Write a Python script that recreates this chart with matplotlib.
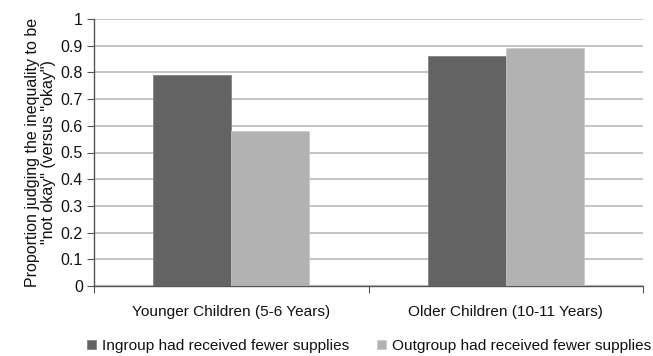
import matplotlib
matplotlib.use("Agg")
import matplotlib.pyplot as plt
import numpy as np

plt.rcParams['font.family'] = ['Liberation Sans', 'DejaVu Sans']

categories = ["Younger Children (5-6 Years)", "Older Children (10-11 Years)"]
series_names = ["Ingroup had received fewer supplies", "Outgroup had received fewer supplies"]
ingroup = [0.79, 0.86]
outgroup = [0.58, 0.89]
yticks = [0, 0.1, 0.2, 0.3, 0.4, 0.5, 0.6, 0.7, 0.8, 0.9, 1]
ytick_labels = ["0", "0.1", "0.2", "0.3", "0.4", "0.5", "0.6", "0.7", "0.8", "0.9", "1"]

dark = "#636363"
light = "#b2b2b2"

fig = plt.figure(figsize=(6.53, 3.56), dpi=100)
ax = fig.add_axes([94/653, 1 - 286/356, (643-94)/653, (286-19)/356])

x = np.arange(len(categories))
w = 0.285
ax.bar(x - w/2, ingroup, w, color=dark, edgecolor="#7a7a7a", linewidth=0.5, label=series_names[0], zorder=3)
ax.bar(x + w/2, outgroup, w, color=light, edgecolor="#c8c8c8", linewidth=0.5, label=series_names[1], zorder=3)

ax.set_xlim(-0.5, 1.5)
ax.set_ylim(0, 1)
ax.set_yticks(yticks)
ax.set_yticklabels(ytick_labels, fontsize=11.5, color="#111111")
ax.yaxis.grid(True, color="#b4b4b4", linewidth=1.1, zorder=0)
ax.set_axisbelow(True)

ax.set_xticks([-0.5, 0.5, 1.5])
ax.set_xticklabels([])
ax.set_xticks(x, minor=True)
ax.set_xticklabels(categories, minor=True, fontsize=11.1, color="#111111")
ax.tick_params(axis='x', which='minor', length=0, pad=14)
ax.tick_params(axis='x', which='major', length=5, color="#555555", direction='out')
ax.tick_params(axis='y', length=5, color="#555555", direction='out', pad=3)

for s in ["top", "right"]:
    ax.spines[s].set_visible(False)
for s in ["left", "bottom"]:
    ax.spines[s].set_color("#555555")
    ax.spines[s].set_linewidth(1.0)

ax.set_ylabel("Proportion judging the inequality to be\n\"not okay\" (versus \"okay\")",
              fontsize=11.5, color="#111111", linespacing=1.1, labelpad=3)

fig.legend(loc="center", bbox_to_anchor=(369/653, 1 - 346/356), ncol=2, frameon=False,
           fontsize=11.1, handlelength=0.6, handleheight=0.6, handletextpad=0.35, columnspacing=1.8,
           labelcolor="#111111", borderpad=0, borderaxespad=0)

fig.savefig("out.png", dpi=100)
